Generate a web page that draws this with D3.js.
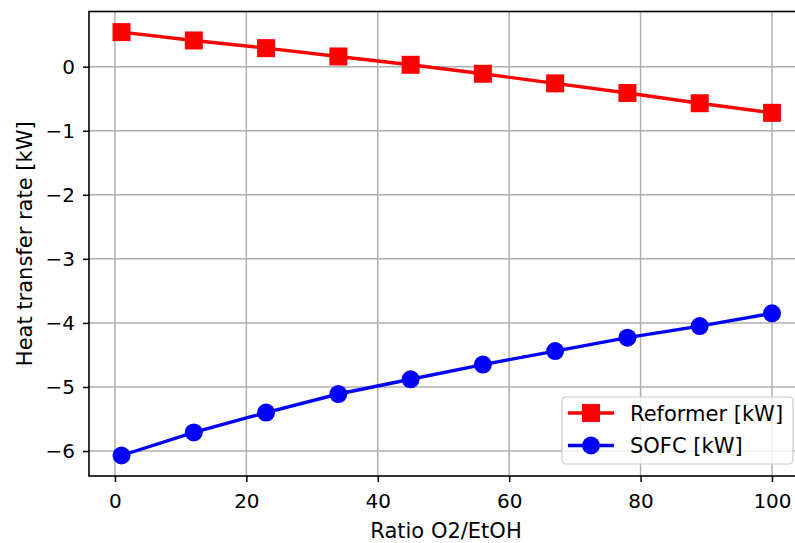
<!DOCTYPE html>
<html>
<head>
<meta charset="utf-8">
<script src="https://cdn.jsdelivr.net/npm/d3@7"></script>
<style>
  body { margin: 0; background: #fff; }
  text { font-family: "DejaVu Sans", sans-serif; }
</style>
</head>
<body>
<div id="chart"></div>
<script>
// data
const ratio = [1, 12, 23, 34, 45, 56, 67, 78, 89, 100];
const reformer = [0.54, 0.41, 0.29, 0.16, 0.03, -0.11, -0.26, -0.41, -0.57, -0.72];
const sofc = [-6.07, -5.71, -5.40, -5.11, -4.88, -4.65, -4.44, -4.23, -4.05, -3.85];
const xTicks = [0, 20, 40, 60, 80, 100];
const yTicks = [-6, -5, -4, -3, -2, -1, 0];
const seriesNames = ["Reformer [kW]", "SOFC [kW]"];

const W = 795, H = 543;
const plot = { left: 89, right: 804.5, top: 11.5, bottom: 476 };
const tickFont = 20, labelFont = 21;

const svg = d3.select("#chart")
  .append("svg")
  .attr("width", W)
  .attr("height", H);

const x = d3.scaleLinear().domain([-3.95, 104.95]).range([plot.left, plot.right]);
const y = d3.scaleLinear().domain([-6.39, 0.862]).range([plot.bottom, plot.top]);

// grid
svg.append("g")
  .selectAll("line")
  .data(xTicks)
  .join("line")
  .attr("x1", d => x(d)).attr("x2", d => x(d))
  .attr("y1", plot.top).attr("y2", plot.bottom)
  .attr("stroke", "#b0b0b0")
  .attr("stroke-width", 1.5);

svg.append("g")
  .selectAll("line")
  .data(yTicks)
  .join("line")
  .attr("x1", plot.left).attr("x2", plot.right)
  .attr("y1", d => y(d)).attr("y2", d => y(d))
  .attr("stroke", "#b0b0b0")
  .attr("stroke-width", 1.5);

// axes
const xAxis = svg.append("g")
  .attr("transform", `translate(0,${plot.bottom})`)
  .call(d3.axisBottom(x).tickValues(xTicks).tickSize(6).tickPadding(12).tickSizeOuter(0));

const yAxis = svg.append("g")
  .attr("transform", `translate(${plot.left},0)`)
  .call(d3.axisLeft(y).tickValues(yTicks).tickSize(6).tickPadding(8).tickSizeOuter(0)
    .tickFormat(d => d < 0 ? "\u2212" + Math.abs(d) : d));

[xAxis, yAxis].forEach(a => {
  a.select(".domain").remove();
  a.selectAll(".tick line").attr("stroke", "#000").attr("stroke-width", 1.5);
  a.selectAll(".tick text")
    .attr("fill", "#000")
    .style("font-size", tickFont + "px")
    .style("font-family", "DejaVu Sans, sans-serif");
});

// spines
svg.append("rect")
  .attr("x", plot.left)
  .attr("y", plot.top)
  .attr("width", plot.right - plot.left)
  .attr("height", plot.bottom - plot.top)
  .attr("fill", "none")
  .attr("stroke", "#000")
  .attr("stroke-width", 1.6);

// lines
const line = d3.line().x(d => x(d[0])).y(d => y(d[1]));
const reformerPts = ratio.map((r, i) => [r, reformer[i]]);
const sofcPts = ratio.map((r, i) => [r, sofc[i]]);

svg.append("path")
  .datum(reformerPts)
  .attr("d", line)
  .attr("fill", "none")
  .attr("stroke", "red")
  .attr("stroke-width", 3.4);

svg.append("g")
  .selectAll("rect")
  .data(reformerPts)
  .join("rect")
  .attr("x", d => x(d[0]) - 9)
  .attr("y", d => y(d[1]) - 9)
  .attr("width", 18)
  .attr("height", 18)
  .attr("fill", "red");

svg.append("path")
  .datum(sofcPts)
  .attr("d", line)
  .attr("fill", "none")
  .attr("stroke", "blue")
  .attr("stroke-width", 3.4);

svg.append("g")
  .selectAll("circle")
  .data(sofcPts)
  .join("circle")
  .attr("cx", d => x(d[0]))
  .attr("cy", d => y(d[1]))
  .attr("r", 9)
  .attr("fill", "blue");

// axis labels
svg.append("text")
  .attr("x", 446)
  .attr("y", 538)
  .attr("text-anchor", "middle")
  .style("font-size", labelFont + "px")
  .text("Ratio O2/EtOH");

svg.append("text")
  .attr("transform", `translate(32,${(plot.top + plot.bottom) / 2}) rotate(-90)`)
  .attr("text-anchor", "middle")
  .style("font-size", labelFont + "px")
  .text("Heat transfer rate [kW]");

// legend
const legend = svg.append("g").attr("transform", "translate(562,397)");
legend.append("rect")
  .attr("width", 231)
  .attr("height", 67)
  .attr("rx", 4)
  .attr("fill", "#fff")
  .attr("fill-opacity", 0.8)
  .attr("stroke", "#cccccc")
  .attr("stroke-width", 1.2);

seriesNames.forEach((name, i) => {
  const g = legend.append("g").attr("transform", `translate(0,${16 + i * 32.5})`);
  const c = i === 0 ? "red" : "blue";
  g.append("line")
    .attr("x1", 6).attr("x2", 52)
    .attr("stroke", c).attr("stroke-width", 3.4);
  if (i === 0) {
    g.append("rect").attr("x", 20).attr("y", -9).attr("width", 18).attr("height", 18).attr("fill", c);
  } else {
    g.append("circle").attr("cx", 29).attr("r", 9).attr("fill", c);
  }
  g.append("text")
    .attr("x", 68)
    .attr("y", 7.5)
    .style("font-size", labelFont + "px")
    .text(name);
});
</script>
</body>
</html>
